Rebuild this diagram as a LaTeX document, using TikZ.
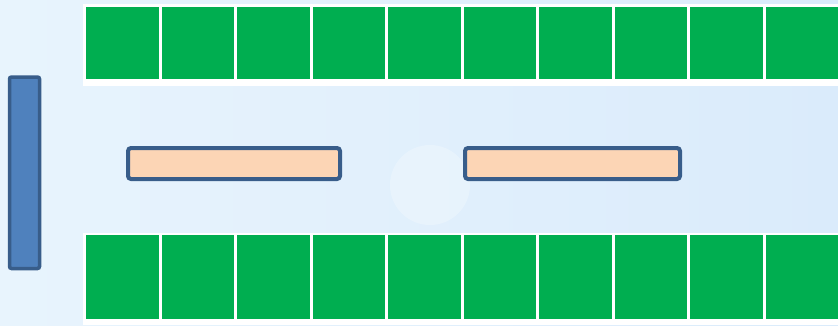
\documentclass[tikz,border=0pt]{standalone}
\usetikzlibrary{calc}
\definecolor{skyA}{RGB}{232,244,253}
\definecolor{skyB}{RGB}{218,235,251}
\definecolor{grass}{RGB}{0,174,80}
\definecolor{wallfill}{RGB}{79,129,189}
\definecolor{wallline}{RGB}{56,93,138}
\definecolor{benchfill}{RGB}{252,213,181}
\tikzset{
  tile/.style={fill=grass,draw=none,minimum width=72.5pt,minimum height=72pt,inner sep=0pt,outer sep=0pt,anchor=north west},
  bench/.style={fill=benchfill,draw=wallline,line width=4pt,rounded corners=3pt},
}
\begin{document}
\begin{tikzpicture}[x=1pt,y=-1pt]
\useasboundingbox (0,0) rectangle (838,325);
\shade[left color=skyA,right color=skyB] (0,0) rectangle (838,325);
\fill[white,opacity=0.25] (430,185) circle (40);
\fill[white] (83,4) rectangle (838,86);
\fill[white] (83,233) rectangle (838,325);
\foreach \i in {0,...,9}{
  \node[tile] (t\i) at (86+75.5*\i,7) {};
  \node[tile,minimum height=83.5pt] (b\i) at (86+75.5*\i,235) {};
}
\draw[fill=wallfill,draw=wallline,line width=3.5pt,rounded corners=2pt] (9.5,77) rectangle (39.5,268.5);
\draw[bench] (128,148) rectangle (340,179);
\draw[bench] (465,148) rectangle (680,179);
\end{tikzpicture}
\end{document}
